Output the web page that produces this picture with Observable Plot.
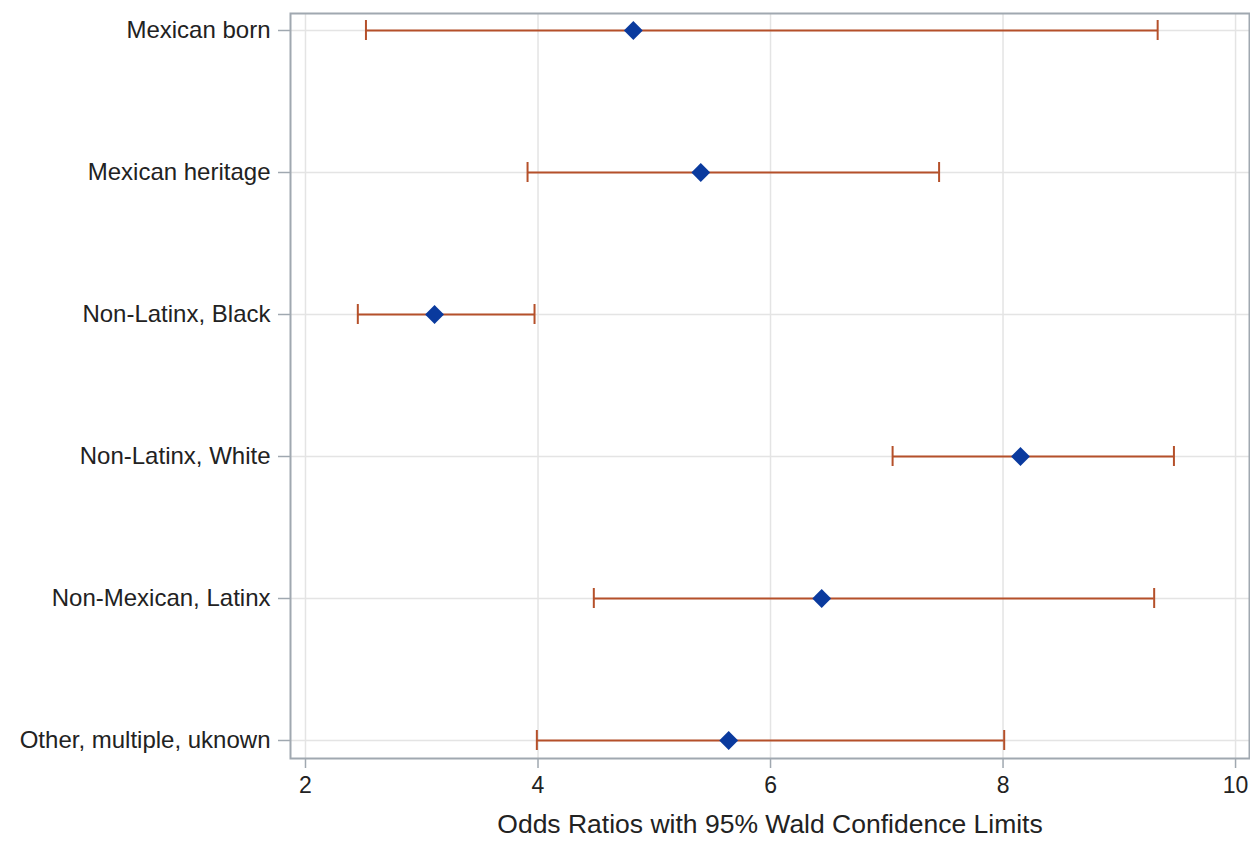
<!DOCTYPE html>
<html><head><meta charset="utf-8">
<script src="https://cdn.jsdelivr.net/npm/d3@7"></script>
<script src="https://cdn.jsdelivr.net/npm/@observablehq/plot@0.6"></script>
<style>body{margin:0;background:#fff}</style></head>
<body><div id="chart"></div>
<script>
const groups = ["Mexican born", "Mexican heritage", "Non-Latinx, Black", "Non-Latinx, White", "Non-Mexican, Latinx", "Other, multiple, uknown"];
const oddsRatio = [4.82, 5.40, 3.11, 8.15, 6.44, 5.64];
const lowerCL = [2.52, 3.91, 2.45, 7.05, 4.48, 3.99];
const upperCL = [9.33, 7.45, 3.97, 9.47, 9.30, 8.01];
const xTicks = [2, 4, 6, 8, 10];
const xLabel = "Odds Ratios with 95% Wald Confidence Limits";

const data = groups.map((g, i) => ({group: g, or: oddsRatio[i], lo: lowerCL[i], hi: upperCL[i]}));
const errColor = "#b5502a";
const chart = Plot.plot({
  width: 1250, height: 844,
  marginLeft: 290, marginRight: 1, marginTop: 13, marginBottom: 86,
  style: {fontFamily: "'Liberation Sans', Arial, sans-serif", fontSize: "24px", color: "#222", background: "#fff"},
  x: {domain: [1.871, 10.12]},
  y: {type: "band", domain: groups, paddingInner: 0.86, paddingOuter: 0.03, insetBottom: 2},
  marks: [
    Plot.gridX(xTicks, {stroke: "#e4e4e4", strokeOpacity: 1, strokeWidth: 1.5}),
    Plot.gridY(groups, {stroke: "#e4e4e4", strokeOpacity: 1, strokeWidth: 1.5}),
    Plot.axisX(xTicks, {tickSize: 10, tickPadding: 8, stroke: "#a0a8b0", strokeWidth: 1.5, label: null, fontSize: 23, tickFormat: d => String(d)}),
    Plot.axisY(groups, {tickSize: 12, tickPadding: 8, stroke: "#a0a8b0", strokeWidth: 1.5, label: null, fontSize: 24}),
    Plot.frame({stroke: "#a0a8b0", strokeWidth: 2}),
    Plot.ruleY(data, {y: "group", x1: "lo", x2: "hi", stroke: errColor, strokeWidth: 2}),
    Plot.tickX(data, {x: "lo", y: "group", stroke: errColor, strokeWidth: 2}),
    Plot.tickX(data, {x: "hi", y: "group", stroke: errColor, strokeWidth: 2}),
    Plot.dot(data, {x: "or", y: "group", symbol: "diamond2", r: 8.5, fill: "#0a3a9e", stroke: "none"}),
    Plot.text([xLabel], {frameAnchor: "bottom", dy: 74, fontSize: 26.5, fill: "#222"})
  ]
});
document.getElementById("chart").appendChild(chart);
</script>
</body></html>
